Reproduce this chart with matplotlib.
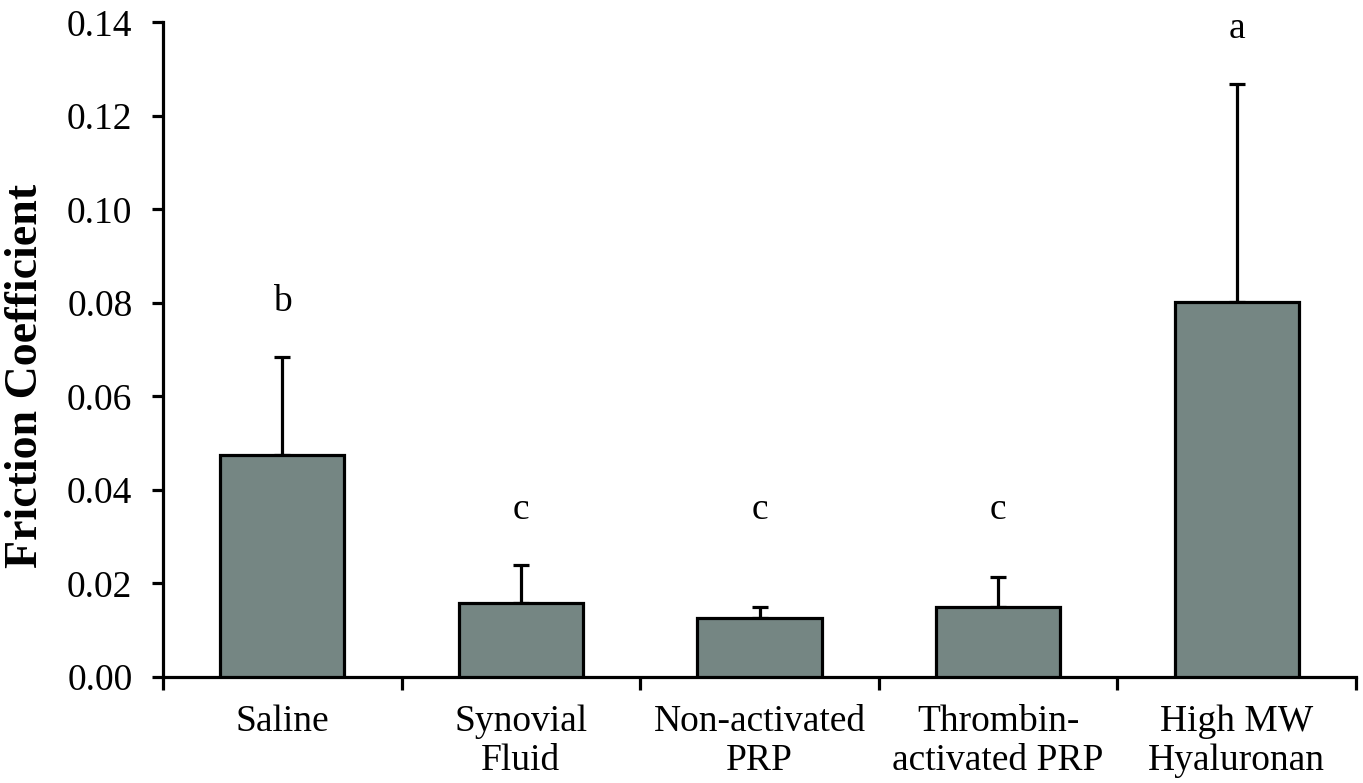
import matplotlib
matplotlib.use("Agg")
import matplotlib.pyplot as plt
import numpy as np

categories = ["Saline", "Synovial\nFluid", "Non-activated\nPRP", "Thrombin-\nactivated PRP", "High MW\nHyaluronan"]
means = [0.0475, 0.0158, 0.0126, 0.0150, 0.0802]
upper_err = [0.0209, 0.0082, 0.0024, 0.0064, 0.0466]
letters = ["b", "c", "c", "c", "a"]
letter_y = [0.0803, 0.0357, 0.0357, 0.0357, 0.1387]
yticks = [0.00, 0.02, 0.04, 0.06, 0.08, 0.10, 0.12, 0.14]

plt.rcParams['font.family'] = ['Liberation Serif', 'DejaVu Serif']

fig = plt.figure(figsize=(13.63, 7.83), dpi=100)
ax = fig.add_axes([0.1196, 0.1354, 0.9949 - 0.1196, 0.9713 - 0.1354])

x = np.arange(len(categories))
lw = 2.3
ax.bar(x, means, width=0.52, color="#758683", edgecolor="black", linewidth=lw, zorder=3)
ax.errorbar(x, means, yerr=[np.zeros(len(means)), upper_err], fmt="none",
            ecolor="black", elinewidth=lw, capsize=6, capthick=lw, zorder=2)

for xi, l, ly in zip(x, letters, letter_y):
    ax.text(xi, ly, l, ha="center", va="center", fontsize=27)

ax.set_xlim(-0.5, len(categories) - 0.5)
ax.set_ylim(0, 0.14)
ax.set_yticks(yticks)
ax.set_yticklabels([f"{v:.2f}" for v in yticks], fontsize=27)
ax.set_xticks(x)
ax.set_xticklabels(categories, fontsize=27, linespacing=1.15)
ax.tick_params(axis="x", which="major", length=0, pad=20)
ax.set_xticks(np.arange(-0.5, len(categories), 1.0), minor=True)
ax.tick_params(axis="x", which="minor", length=9, width=lw, direction="out")
ax.tick_params(axis="y", length=8, width=lw, direction="out", pad=14)

for s in ["top", "right"]:
    ax.spines[s].set_visible(False)
for s in ["left", "bottom"]:
    ax.spines[s].set_linewidth(lw)

ax.set_ylabel("Friction Coefficient", fontsize=33, fontweight="bold")
ax.yaxis.set_label_coords(-0.097, 0.46)

fig.savefig("out.png", dpi=100)
